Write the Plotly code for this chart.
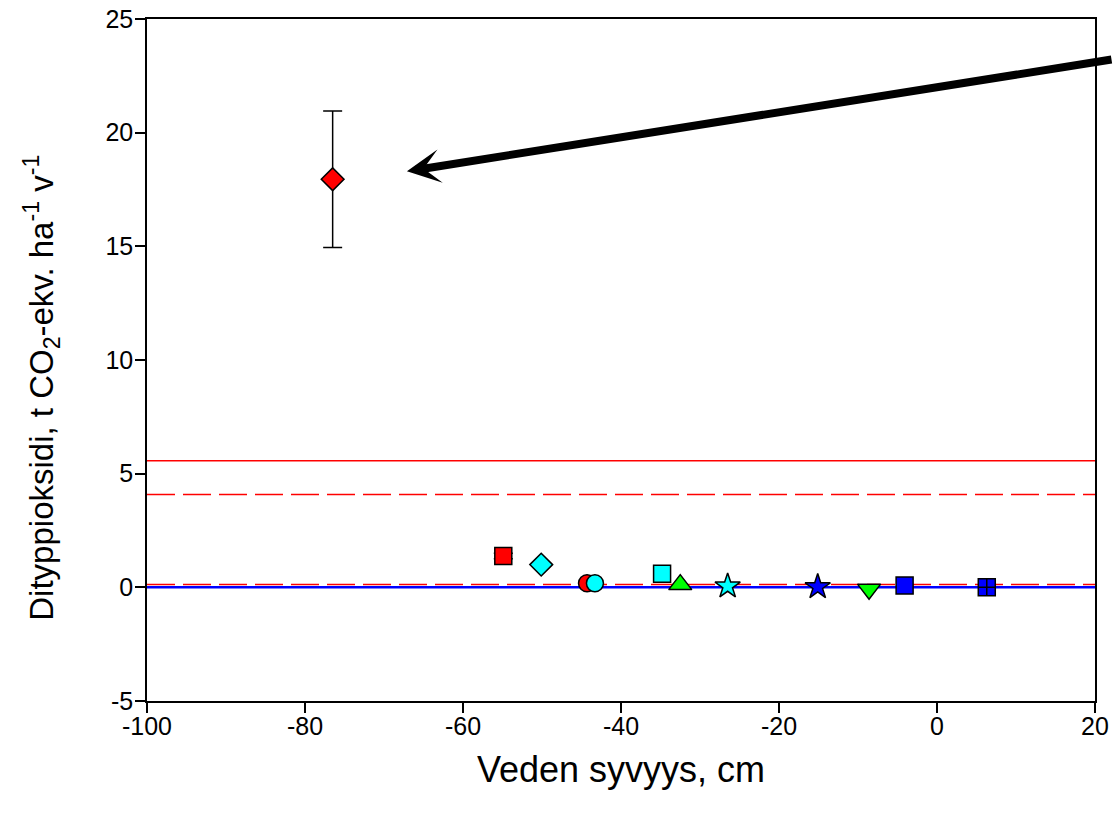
import plotly.graph_objects as go

# Nitrous oxide emissions vs. water table depth
depth = [-76.5, -54.9, -50.1, -44.3, -43.3, -34.8, -32.5, -26.5, -15.1, -8.6, -4.1, 6.3]
n2o = [17.95, 1.38, 1.0, 0.18, 0.18, 0.6, 0.12, 0.05, 0.02, -0.08, 0.08, 0.0]
n2o_err = [3.0, 0.12, 0, 0, 0, 0, 0, 0, 0, 0, 0, 0]
symbols = ["diamond", "square", "diamond", "circle", "circle", "square",
           "triangle-up", "star", "star", "triangle-down", "square", "square-cross"]
fills = ["#ff0000", "#ff0000", "#00ffff", "#ff0000", "#00ffff", "#00ffff",
         "#00ff00", "#00ffff", "#0000ff", "#00ff00", "#0000ff", "#0000ff"]

# Reference levels
red_solid = [5.57]
red_dashed = [4.08, 0.13]
blue_solid = [0.0]

x_range = [-100, 20]
y_range = [-5, 25]
x_ticks = [-100, -80, -60, -40, -20, 0, 20]
y_ticks = [-5, 0, 5, 10, 15, 20, 25]

# Arrow pointing at the outlier
arrow_tip = (-67.1, 18.3)

FONT = "Liberation Sans, Arial, sans-serif"

fig = go.Figure()

for lvl in red_solid:
    fig.add_trace(go.Scatter(x=x_range, y=[lvl, lvl], mode="lines",
                             line=dict(color="#ff0000", width=1.5),
                             showlegend=False, hoverinfo="skip"))
for lvl in red_dashed:
    fig.add_trace(go.Scatter(x=x_range, y=[lvl, lvl], mode="lines",
                             line=dict(color="#ff0000", width=1.5, dash="28px,8px"),
                             showlegend=False, hoverinfo="skip"))
for lvl in blue_solid:
    fig.add_trace(go.Scatter(x=x_range, y=[lvl, lvl], mode="lines",
                             line=dict(color="#0000ff", width=2.5),
                             showlegend=False, hoverinfo="skip"))

sizes = {"diamond": 17.5, "triangle-up": 20, "triangle-down": 20, "star": 19}
for xv, yv, ev, sym, col in zip(depth, n2o, n2o_err, symbols, fills):
    fig.add_trace(go.Scatter(
        x=[xv], y=[yv], mode="markers",
        marker=dict(symbol=sym, size=sizes.get(sym, 17), color=col,
                    line=dict(color="black", width=1.5)),
        error_y=dict(type="data", array=[ev], visible=ev > 0,
                     color="black", thickness=1.5, width=9.5),
        showlegend=False, cliponaxis=False,
    ))

fig.add_annotation(
    x=arrow_tip[0], y=arrow_tip[1], xref="x", yref="y",
    text="", showarrow=True, arrowhead=3, arrowsize=0.7, arrowwidth=8,
    arrowcolor="black", ax=725, ay=-112, standoff=0,
)

# Y-axis title, rotated
fig.add_annotation(
    text="Dityppioksidi, t CO<sub>2</sub>-ekv. ha<sup>-1</sup> v<sup>-1</sup>",
    xref="paper", yref="paper", x=-0.111, y=0.459,
    xanchor="center", yanchor="middle", textangle=-90, showarrow=False,
    font=dict(family=FONT, size=33, color="black"),
)

axis_common = dict(
    showline=True, linecolor="black", linewidth=1.5, mirror=True,
    ticks="outside", ticklen=10, tickwidth=1.5, tickcolor="black",
    showgrid=False, zeroline=False,
    tickfont=dict(family=FONT, size=25, color="black"),
)

fig.update_xaxes(range=x_range, tickvals=x_ticks,
                 ticktext=[str(v) for v in x_ticks], ticklabelstandoff=-8,
                 title=dict(text="Veden syvyys, cm",
                            font=dict(family=FONT, size=36, color="black"),
                            standoff=18),
                 **axis_common)
fig.update_yaxes(range=y_range, tickvals=y_ticks,
                 ticktext=[str(v) for v in y_ticks], ticklabelstandoff=-3,
                 **axis_common)

fig.update_layout(
    width=1113, height=818,
    margin=dict(l=147, r=18, t=19, b=117, autoexpand=False),
    paper_bgcolor="white", plot_bgcolor="white",
)

fig.write_html("out.html")
